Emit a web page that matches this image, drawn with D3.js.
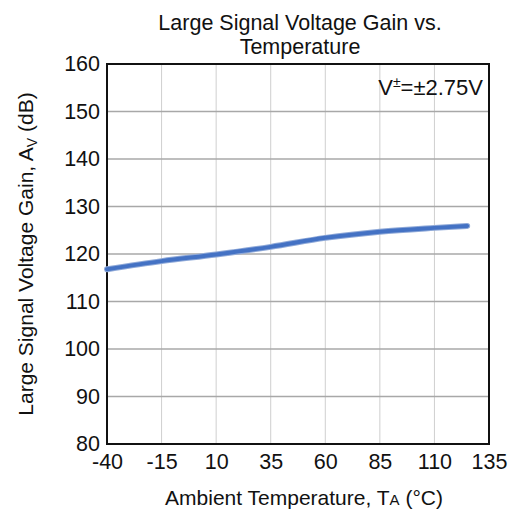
<!DOCTYPE html>
<html><head><meta charset="utf-8">
<script src="https://cdn.jsdelivr.net/npm/d3@7"></script>
<style>body{margin:0;background:#fff}svg{display:block}text{font-family:"Liberation Sans",Arial,sans-serif;fill:#111}</style>
</head><body><svg id="c" width="513" height="515"></svg>
<script>
const temps = [-40, -15, 10, 35, 60, 85, 110, 125];
const gain = [116.8, 118.5, 119.9, 121.5, 123.4, 124.7, 125.5, 125.9];
const xTicks = [-40, -15, 10, 35, 60, 85, 110, 135];
const yTicks = [80, 90, 100, 110, 120, 130, 140, 150, 160];

const svg = d3.select("#c");
const m = {l:107, r:489, t:64, b:444};
const x = d3.scaleLinear().domain([-40,135]).range([m.l,m.r]);
const y = d3.scaleLinear().domain([80,160]).range([m.b,m.t]);

// grid
svg.append("g").selectAll("line").data(xTicks.slice(1,-1)).join("line")
  .attr("x1",d=>x(d)).attr("x2",d=>x(d)).attr("y1",m.t).attr("y2",m.b)
  .attr("stroke","#cfcfcf").attr("stroke-width",1);
svg.append("g").selectAll("line").data(yTicks.slice(1,-1)).join("line")
  .attr("x1",m.l).attr("x2",m.r).attr("y1",d=>y(d)).attr("y2",d=>y(d))
  .attr("stroke","#a8a8a8").attr("stroke-width",1.5);

// axes
const fmt = d => String(d);
const xa = svg.append("g").attr("transform",`translate(0,${m.b})`)
  .call(d3.axisBottom(x).tickValues(xTicks).tickFormat(fmt).tickSize(0).tickPadding(10));
xa.select(".domain").remove();
xa.selectAll("text").attr("font-size",21.5).attr("font-family","Liberation Sans, Arial, sans-serif").attr("fill","#111");
const ya = svg.append("g").attr("transform",`translate(${m.l},0)`)
  .call(d3.axisLeft(y).tickValues(yTicks).tickFormat(fmt).tickSize(0).tickPadding(7));
ya.select(".domain").remove();
ya.selectAll("text").attr("font-size",21.5).attr("font-family","Liberation Sans, Arial, sans-serif").attr("fill","#111");

// frame
svg.append("rect").attr("x",m.l).attr("y",m.t).attr("width",m.r-m.l).attr("height",m.b-m.t)
  .attr("fill","none").attr("stroke","#111").attr("stroke-width",2);

// curve
const line = d3.line().x((d,i)=>x(temps[i])).y(d=>y(d)).curve(d3.curveMonotoneX);
svg.append("path").datum(gain).attr("d",line).attr("fill","none")
  .attr("stroke","#8fa9d8").attr("stroke-width",6).attr("stroke-linecap","round");
svg.append("path").datum(gain).attr("d",line).attr("fill","none")
  .attr("stroke","#4472c4").attr("stroke-width",4).attr("stroke-linecap","round");

// titles
const cx = (m.l+m.r)/2 + 2;
svg.append("text").attr("x",cx).attr("y",30).attr("text-anchor","middle").attr("font-size",21.5).text("Large Signal Voltage Gain vs.");
svg.append("text").attr("x",cx).attr("y",54).attr("text-anchor","middle").attr("font-size",21.5).text("Temperature");

const xt = svg.append("text").attr("x",cx+4).attr("y",505).attr("text-anchor","middle").attr("font-size",21);
xt.append("tspan").text("Ambient Temperature, T");
xt.append("tspan").attr("font-size",15).text("A");
xt.append("tspan").text(" (°C)");

const yt = svg.append("text").attr("transform",`translate(33,${(m.t+m.b)/2}) rotate(-90)`).attr("text-anchor","middle").attr("font-size",21);
yt.append("tspan").text("Large Signal Voltage Gain, A");
yt.append("tspan").attr("font-size",14).attr("dy",4).text("V");
yt.append("tspan").attr("dy",-4).text(" (dB)");

const an = svg.append("text").attr("x",483).attr("y",95).attr("text-anchor","end").attr("font-size",22);
an.append("tspan").text("V");
an.append("tspan").attr("font-size",14).attr("dy",-8).text("±");
an.append("tspan").attr("dy",8).text("=±2.75V");
</script></body></html>
